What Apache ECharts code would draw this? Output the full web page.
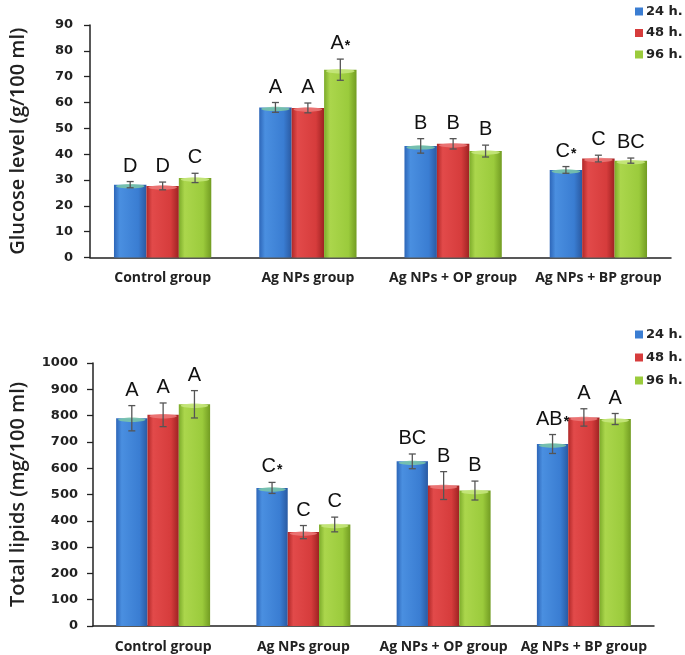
<!DOCTYPE html>
<html>
<head>
<meta charset="utf-8">
<script src="https://cdn.jsdelivr.net/npm/echarts@6/dist/echarts.min.js"></script>
<style>
html,body{margin:0;padding:0;background:#fff;}
#chart{width:685px;height:655px;}
</style>
</head>
<body>
<div id="chart"></div>
<script>
var categories = ['Control group', 'Ag NPs group', 'Ag NPs + OP group', 'Ag NPs + BP group'];
var seriesNames = ['24 h.', '48 h.', '96 h.'];

var glucoseTicks = [0, 10, 20, 30, 40, 50, 60, 70, 80, 90];
var glucose24 = [28.2, 58.1, 43.2, 33.9];
var glucose48 = [27.7, 57.9, 44.0, 38.3];
var glucose96 = [30.8, 72.7, 41.2, 37.5];
var glucoseErr24 = [1.2, 1.9, 2.8, 1.3];
var glucoseErr48 = [1.5, 1.9, 2.0, 1.3];
var glucoseErr96 = [1.8, 4.1, 2.3, 1.0];
var glucoseLetters24 = ['D', 'A', 'B', 'C*'];
var glucoseLetters48 = ['D', 'A', 'B', 'C'];
var glucoseLetters96 = ['C', 'A*', 'B', 'BC'];

var lipidTicks = [0, 100, 200, 300, 400, 500, 600, 700, 800, 900, 1000];
var lipids24 = [790, 525, 626, 692];
var lipids48 = [803, 357, 534, 793];
var lipids96 = [843, 386, 515, 787];
var lipidErr24 = [48, 21, 28, 36];
var lipidErr48 = [45, 25, 53, 33];
var lipidErr96 = [52, 28, 36, 21];
var lipidLetters24 = ['A', 'C*', 'BC', 'AB*'];
var lipidLetters48 = ['A', 'C', 'B', 'A'];
var lipidLetters96 = ['A', 'C', 'B', 'A'];

function hGrad(c0, c1, c2, c3) {
  return new echarts.graphic.LinearGradient(0, 0, 1, 0, [
    {offset: 0, color: c0}, {offset: 0.18, color: c1}, {offset: 0.75, color: c2}, {offset: 1, color: c3}
  ]);
}
var barColors = [
  hGrad('#2d66b8', '#4a8fe0', '#3a7dd2', '#2a5aa2'),
  hGrad('#b02828', '#e24a4a', '#d63c3c', '#9e2222'),
  hGrad('#7cab2a', '#abd64c', '#9bcb3c', '#729c22')
];
var topColors = ['#7cc8a8', '#ec7a7a', '#c8e880'];
var legendColors = ['#3a7dd2', '#d63c3c', '#9bcb3c'];

var GAP = 0.33;

function makeRender(letters, seriesIdx) {
  return function (params, api) {
    var cat = api.value(0);
    var val = api.value(1);
    var err = api.value(2);
    var band = api.size([1, 0])[0];
    var bw = band * (1 - GAP) / 3;
    var center = api.coord([cat, val]);
    var x = center[0] + (seriesIdx - 1) * bw;
    var barTop = center[1];
    var top = api.coord([cat, val + err])[1];
    var bot = api.coord([cat, val - err])[1];
    var cap = 3.5;
    var st = {stroke: '#555', lineWidth: 1.3};
    var lab = letters[params.dataIndex];
    var txt = lab.indexOf('*') >= 0 ? '{a|' + lab.replace('*', '') + '}{s|*}' : '{a|' + lab + '}';
    return {
      type: 'group',
      children: [
        {type: 'ellipse', shape: {cx: x, cy: barTop + 1.5, rx: bw / 2 - 2, ry: 2.2}, style: {fill: topColors[seriesIdx], opacity: 0.85}},
        {type: 'line', shape: {x1: x, y1: top, x2: x, y2: bot}, style: st},
        {type: 'line', shape: {x1: x - cap, y1: top, x2: x + cap, y2: top}, style: st},
        {type: 'line', shape: {x1: x - cap, y1: bot, x2: x + cap, y2: bot}, style: st},
        {type: 'text', x: x, y: top - 5, style: {
          text: txt, align: 'center', verticalAlign: 'bottom',
          rich: {
            a: {fontFamily: 'Liberation Sans', fontSize: 20, fill: '#111', color: '#111', lineHeight: 21},
            s: {fontFamily: 'Liberation Sans', fontWeight: 'bold', fontSize: 14, fill: '#111', color: '#111', lineHeight: 21, padding: [6, 0, 0, 1]}
          }
        }}
      ]
    };
  };
}

function zipData(vals, errs) {
  return vals.map(function (v, i) { return [i, v, errs[i]]; });
}

var series = [];
var gVals = [glucose24, glucose48, glucose96];
var gErrs = [glucoseErr24, glucoseErr48, glucoseErr96];
var gLets = [glucoseLetters24, glucoseLetters48, glucoseLetters96];
var lVals = [lipids24, lipids48, lipids96];
var lErrs = [lipidErr24, lipidErr48, lipidErr96];
var lLets = [lipidLetters24, lipidLetters48, lipidLetters96];

for (var s = 0; s < 3; s++) {
  series.push({
    name: seriesNames[s], type: 'bar', xAxisIndex: 0, yAxisIndex: 0,
    data: gVals[s], barGap: 0, barCategoryGap: '33%',
    itemStyle: {color: barColors[s]}
  });
}
for (var s2 = 0; s2 < 3; s2++) {
  series.push({
    name: seriesNames[s2], type: 'bar', xAxisIndex: 1, yAxisIndex: 1,
    data: lVals[s2], barGap: 0, barCategoryGap: '33%',
    itemStyle: {color: barColors[s2]}
  });
}
for (var s3 = 0; s3 < 3; s3++) {
  series.push({
    type: 'custom', xAxisIndex: 0, yAxisIndex: 0, clip: false, silent: true, z: 5,
    data: zipData(gVals[s3], gErrs[s3]), encode: {x: 0, y: 1},
    renderItem: makeRender(gLets[s3], s3)
  });
  series.push({
    type: 'custom', xAxisIndex: 1, yAxisIndex: 1, clip: false, silent: true, z: 5,
    data: zipData(lVals[s3], lErrs[s3]), encode: {x: 0, y: 1},
    renderItem: makeRender(lLets[s3], s3)
  });
}

function xAxisCfg(gi) {
  return {
    type: 'category', gridIndex: gi, data: categories,
    axisLine: {lineStyle: {color: '#222', width: 1.5}},
    axisTick: {show: false},
    axisLabel: {margin: 14, fontFamily: 'Open Sans', fontWeight: 'bold', fontSize: 14, color: '#222', interval: 0}
  };
}
function yAxisCfg(gi, ticks, name, margin, gap) {
  return {
    type: 'value', gridIndex: gi, min: ticks[0], max: ticks[ticks.length - 1],
    interval: ticks[1] - ticks[0],
    name: name, nameLocation: 'middle', nameGap: gap, nameRotate: 90,
    nameTextStyle: {fontFamily: 'Open Sans', fontWeight: 600, fontSize: 20, color: '#222'},
    axisLine: {show: true, lineStyle: {color: '#222', width: 1.5}},
    axisTick: {show: true, length: 6, lineStyle: {color: '#222', width: 1.3}},
    splitLine: {show: false},
    axisLabel: {margin: margin, fontFamily: 'DejaVu Sans', fontWeight: 'bold', fontSize: 13, color: '#222',
      formatter: function (v) { return String(v); }}
  };
}

function legendCfg(top, gap) {
  return {
    orient: 'vertical', left: 630, top: top, itemWidth: 8, itemHeight: 8, itemGap: gap,
    icon: 'rect', selectedMode: false,
    textStyle: {fontFamily: 'DejaVu Sans', fontWeight: 'bold', fontSize: 13, color: '#222', padding: [0, 0, 0, -2]},
    data: seriesNames.map(function (n, i) { return {name: n, itemStyle: {color: legendColors[i]}}; })
  };
}

var option = {
  animation: false,
  backgroundColor: '#ffffff',
  grid: [
    {left: 79, top: 25, width: 592, height: 232.5},
    {left: 82, top: 363, width: 572, height: 263}
  ],
  legend: [legendCfg(0, 8.5), legendCfg(323, 10)],
  xAxis: [xAxisCfg(0), xAxisCfg(1)],
  yAxis: [
    yAxisCfg(0, glucoseTicks, 'Glucose level (g/100 ml)', 17, 62),
    yAxisCfg(1, lipidTicks, 'Total lipids (mg/100 ml)', 15, 65)
  ],
  series: series
};

var chart = echarts.init(document.getElementById('chart'), null, {renderer: 'canvas'});
chart.setOption(option);
</script>
</body>
</html>
